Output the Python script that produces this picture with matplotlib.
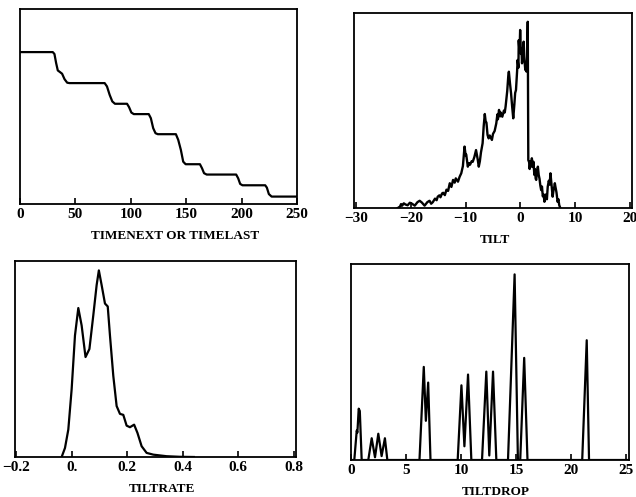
import numpy as np
import matplotlib
matplotlib.use('Agg')
import matplotlib.pyplot as plt


# Data (y in relative units, 0 = baseline, 1 = top of box)
TIME_X = [0, 29.6, 31.1, 32.6, 34.1, 36.2, 38.0, 40.2, 42.6, 44.7, 76.4, 78.5, 80.9,
          83.3, 85.7, 96.6, 98.4, 100.5, 102.7, 116.2, 118.1, 120.2, 122.3, 124.4,
          140.7, 142.8, 145.2, 147.3, 149.5, 162.4, 164.3, 166.1, 168.5, 195.1,
          196.9, 198.7, 200.8, 221.3, 222.8, 224.6, 227.1, 250]
TIME_Y = [0.779, 0.779, 0.769, 0.723, 0.685, 0.676, 0.668, 0.640, 0.622, 0.620,
          0.620, 0.603, 0.560, 0.526, 0.514, 0.514, 0.497, 0.469, 0.461, 0.461,
          0.440, 0.389, 0.363, 0.358, 0.358, 0.329, 0.277, 0.217, 0.204, 0.204,
          0.183, 0.158, 0.151, 0.151, 0.132, 0.103, 0.096, 0.096, 0.084, 0.051,
          0.038, 0.038]

TILT_X = [-22.4, -22.0, -21.8, -21.6, -21.3, -21.0, -20.6, -20.2, -19.8, -19.3,
          -18.8, -18.4, -18.0, -17.5, -17.0, -16.6, -16.3, -16.0, -15.6, -15.3,
          -15.1, -14.8, -14.6, -14.3, -14.1, -13.8, -13.5, -13.2, -12.9, -12.6,
          -12.3, -12.0, -11.8, -11.4, -11.1, -10.8, -10.5, -10.2, -10.0, -9.9,
          -9.6, -9.4, -9.2, -8.9, -8.7, -8.4, -8.1, -7.8, -7.6, -7.4, -7.2, -6.9,
          -6.7, -6.5, -6.35, -6.2, -6.0, -5.8, -5.6, -5.4, -5.2, -5.0, -4.7,
          -4.4, -4.2, -4.1, -3.9, -3.7, -3.6, -3.3, -3.0, -2.85, -2.7, -2.4,
          -2.2, -2.1, -1.9, -1.7, -1.5, -1.3, -1.1, -0.95, -0.8, -0.6, -0.5,
          -0.35, -0.3, -0.15, -0.04, 0.1, 0.2, 0.3, 0.45, 0.6, 0.75, 0.9, 1.0,
          1.1, 1.25, 1.35, 1.45, 1.6, 1.7, 1.85, 1.95, 2.1, 2.2, 2.3, 2.4, 2.55,
          2.65, 2.8, 2.9, 3.05, 3.2, 3.35, 3.5, 3.65, 3.8, 3.95, 4.1, 4.25, 4.4,
          4.55, 4.7, 4.85, 5.0, 5.2, 5.35, 5.5, 5.7, 5.9, 6.05, 6.15, 6.3, 6.4,
          6.6, 6.8, 6.95, 7.1, 7.3]
TILT_Y = [0.0, 0.007, 0.020, 0.012, 0.024, 0.018, 0.014, 0.027, 0.022, 0.012,
          0.030, 0.037, 0.028, 0.012, 0.030, 0.037, 0.022, 0.030, 0.048, 0.040,
          0.058, 0.065, 0.055, 0.075, 0.078, 0.066, 0.094, 0.088, 0.127, 0.108,
          0.144, 0.130, 0.152, 0.135, 0.160, 0.178, 0.215, 0.315, 0.270, 0.275,
          0.212, 0.230, 0.222, 0.240, 0.237, 0.262, 0.297, 0.250, 0.212, 0.240,
          0.285, 0.332, 0.420, 0.482, 0.445, 0.438, 0.375, 0.357, 0.372, 0.360,
          0.349, 0.380, 0.395, 0.434, 0.480, 0.455, 0.503, 0.470, 0.490, 0.468,
          0.500, 0.490, 0.520, 0.600, 0.680, 0.699, 0.640, 0.588, 0.520, 0.460,
          0.530, 0.590, 0.605, 0.700, 0.759, 0.720, 0.860, 0.800, 0.913, 0.790,
          0.820, 0.742, 0.800, 0.853, 0.760, 0.708, 0.740, 0.700, 0.780, 0.955,
          0.246, 0.235, 0.200, 0.240, 0.212, 0.255, 0.230, 0.210, 0.237, 0.170,
          0.200, 0.150, 0.144, 0.190, 0.212, 0.170, 0.150, 0.115, 0.092, 0.110,
          0.060, 0.070, 0.032, 0.055, 0.070, 0.045, 0.109, 0.140, 0.120, 0.178,
          0.120, 0.058, 0.090, 0.100, 0.127, 0.110, 0.080, 0.032, 0.045, 0.015,
          0.0]

RATE_X = [-0.036, -0.024, -0.012, 0.0, 0.012, 0.024, 0.036, 0.050, 0.064, 0.078,
          0.090, 0.098, 0.108, 0.120, 0.130, 0.138, 0.150, 0.162, 0.174, 0.186,
          0.198, 0.210, 0.225, 0.237, 0.252, 0.270, 0.294, 0.342, 0.39, 0.44]
RATE_Y = [0.0, 0.046, 0.140, 0.346, 0.620, 0.760, 0.671, 0.510, 0.551, 0.723,
          0.877, 0.952, 0.877, 0.783, 0.768, 0.620, 0.414, 0.260, 0.220, 0.215,
          0.160, 0.152, 0.165, 0.123, 0.055, 0.021, 0.012, 0.004, 0.001, 0.0]

DROP_X = [0.0, 0.30, 0.52, 0.58, 0.70, 0.80, 0.97, 1.57, 1.88, 2.18, 2.48, 2.78,
          3.08, 3.30, 6.22, 6.61, 6.80, 7.01, 7.22, 9.69, 10.03, 10.30, 10.63,
          10.93, 11.90, 12.29, 12.56, 12.90, 13.20, 14.26, 14.86, 15.16, 15.37,
          15.73, 16.03, 21.00, 21.41, 21.62, 25.25]
DROP_Y = [0.0, 0.0, 0.15, 0.14, 0.262, 0.25, 0.0, 0.0, 0.111, 0.014, 0.134,
          0.020, 0.111, 0.0, 0.0, 0.475, 0.20, 0.395, 0.0, 0.0, 0.381, 0.07,
          0.436, 0.0, 0.0, 0.451, 0.023, 0.451, 0.0, 0.0, 0.947, 0.0, 0.0,
          0.521, 0.0, 0.0, 0.611, 0.0, 0.0]

TIME_TICKS = [0, 50, 100, 150, 200, 250]
TILT_TICKS = [-30, -20, -10, 0, 10, 20]
RATE_TICKS = [-0.2, 0.0, 0.2, 0.4, 0.6, 0.8]
RATE_LABELS = ['\u22120.2', '0.', '0.2', '0.4', '0.6', '0.8']
DROP_TICKS = [0, 5, 10, 15, 20, 25]

plt.rcParams['font.family'] = ['Liberation Serif', 'DejaVu Serif']
plt.rcParams['font.weight'] = 'bold'

W, H = 636, 497
fig = plt.figure(figsize=(W / 100, H / 100), dpi=100)


def make_ax(left, top, right, bottom):
    ax = fig.add_axes([left / W, 1 - bottom / H, (right - left) / W, (bottom - top) / H])
    for s in ax.spines.values():
        s.set_linewidth(1.3)
    ax.set_yticks([])
    ax.tick_params(axis='x', direction='in', length=4, width=1.2, pad=3,
                   labelsize=11, top=False)
    ax.set_ylim(0, 1.0)
    return ax


def finish(ax, ticks, xlim, label, label_x, labels=None):
    ax.set_xlim(*xlim)
    ax.set_xticks(ticks)
    if labels is None:
        labels = [str(t).replace('-', '\u2212') for t in ticks]
    ax.set_xticklabels(labels, fontweight='bold')
    ax.set_xlabel(label, fontsize=9.5, fontweight='bold')
    ax.xaxis.set_label_coords(label_x, -0.135)


ax1 = make_ax(20, 9, 297, 204)
ax1.plot(TIME_X, TIME_Y, color='black', lw=1.6)
finish(ax1, TIME_TICKS, (0, 250), 'TIMENEXT OR TIMELAST', 0.56)

ax2 = make_ax(354, 13, 632, 208)
ax2.plot(TILT_X, TILT_Y, color='black', lw=1.7)
finish(ax2, TILT_TICKS, (-30.4, 20.4), 'TILT', 0.506)

ax3 = make_ax(15, 261, 296, 457)
ax3.plot(RATE_X, RATE_Y, color='black', lw=1.6)
finish(ax3, RATE_TICKS, (-0.204, 0.808), 'TILTRATE', 0.522, RATE_LABELS)

ax4 = make_ax(351, 264, 629, 460)
ax4.plot(DROP_X, DROP_Y, color='black', lw=1.6)
finish(ax4, DROP_TICKS, (0, 25.25), 'TILTDROP', 0.522)

fig.savefig('out.png', dpi=100)
